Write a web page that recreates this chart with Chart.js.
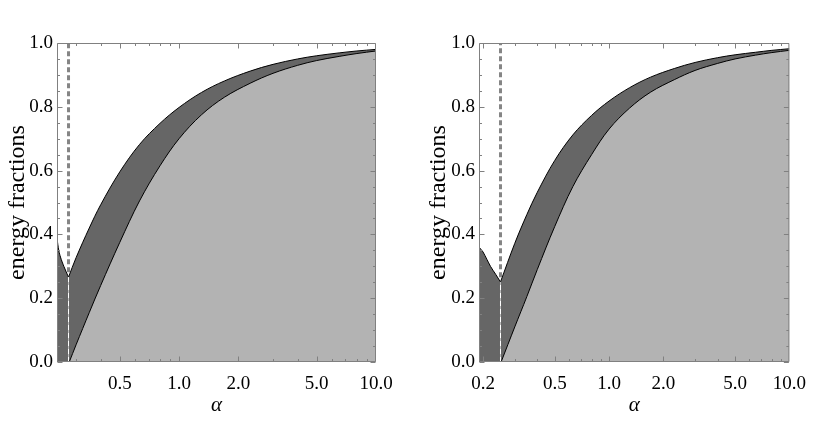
<!DOCTYPE html>
<html><head><meta charset="utf-8">
<script src="https://cdn.jsdelivr.net/npm/chart.js@4"></script>
<style>
html,body{margin:0;padding:0;background:#fff;width:817px;height:428px;overflow:hidden}
.box{position:absolute;top:0;height:428px}
</style></head><body>
<div class="box" style="left:0;width:408px"><canvas id="c1" width="408" height="428"></canvas></div>
<div class="box" style="left:408px;width:409px"><canvas id="c2" width="409" height="428"></canvas></div>
<script>
// ---------- data (left panel) ----------
const alphaDarkLeftL = [0.24, 0.245, 0.25, 0.26, 0.2746];
const darkLeftL      = [0.387, 0.35, 0.329, 0.300, 0.266];
const alphaDarkL = [0.2746, 0.3, 0.35, 0.4, 0.5, 0.63, 0.8, 1.0, 1.3, 1.7, 2.3, 3, 4, 5, 6.5, 8, 10];
const darkL      = [0.266, 0.327, 0.42, 0.493, 0.596, 0.682, 0.748, 0.798, 0.845, 0.881, 0.912, 0.933, 0.950, 0.960, 0.969, 0.975, 0.980];
const alphaLightL = [0.277, 0.3, 0.35, 0.4, 0.5, 0.63, 0.8, 1.0, 1.3, 1.7, 2.3, 3, 4, 5, 6.5, 8, 10];
const lightL      = [0, 0.054, 0.155, 0.24, 0.375, 0.505, 0.615, 0.70, 0.775, 0.83, 0.874, 0.905, 0.93, 0.945, 0.958, 0.967, 0.975];
const cutL = 0.2746;
const xRangeL = [0.24, 10];

// ---------- data (right panel) ----------
const alphaDarkLeftR = [0.19, 0.2, 0.21, 0.22, 0.235, 0.25];
const darkLeftR      = [0.36, 0.345, 0.322, 0.300, 0.275, 0.251];
const alphaDarkR = [0.25, 0.3, 0.35, 0.4, 0.5, 0.63, 0.8, 1.0, 1.3, 1.7, 2.3, 3, 4, 5, 6.5, 8, 10];
const darkR      = [0.251, 0.372, 0.462, 0.532, 0.632, 0.712, 0.773, 0.818, 0.86, 0.893, 0.92, 0.939, 0.954, 0.963, 0.971, 0.977, 0.982];
const alphaLightR = [0.252, 0.3, 0.35, 0.4, 0.5, 0.63, 0.8, 1.0, 1.3, 1.7, 2.3, 3, 4, 5, 6.5, 8, 10];
const lightR      = [0, 0.11, 0.205, 0.29, 0.425, 0.55, 0.65, 0.73, 0.796, 0.846, 0.885, 0.914, 0.936, 0.95, 0.962, 0.97, 0.977];
const cutR = 0.25;
const xRangeR = [0.19, 10];

// ---------- ticks ----------
const yTicks = [0, 0.2, 0.4, 0.6, 0.8, 1.0];
const yTickLabels = ['0.0', '0.2', '0.4', '0.6', '0.8', '1.0'];
const yMinor = [0.05, 0.1, 0.15, 0.25, 0.3, 0.35, 0.45, 0.5, 0.55, 0.65, 0.7, 0.75, 0.85, 0.9, 0.95];
const xTicksL = [0.5, 1, 2, 5, 10];
const xTickLabelsL = ['0.5', '1.0', '2.0', '5.0', '10.0'];
const xTicksR = [0.2, 0.5, 1, 2, 5, 10];
const xTickLabelsR = ['0.2', '0.5', '1.0', '2.0', '5.0', '10.0'];
const xMinor = [0.3, 0.4, 0.6, 0.7, 0.8, 0.9, 3, 4, 6, 7, 8, 9];

const yTitle = 'energy fractions';
const xTitle = 'α';

const DARK = '#666666', LIGHT = '#b3b3b3';
const SERIF = '"Liberation Serif", "Times New Roman", serif';

const framePlugin = {
  id: 'frame',
  afterDatasetsDraw(chart, args, o) {
    const {ctx, chartArea: a} = chart;
    const xs = chart.scales.x, ys = chart.scales.y;
    const L = a.left + 0.5, R = a.right - 0.5, T = a.top + 0.5, B = a.bottom - 0.5;
    ctx.save();
    ctx.strokeStyle = '#808080';
    ctx.lineWidth = 1;
    ctx.beginPath();
    ctx.rect(L, T, R - L, B - T);
    const xt = (v, len) => {
      const p = Math.round(xs.getPixelForValue(v)) + 0.5;
      if (p < L || p > R) return;
      ctx.moveTo(p, B); ctx.lineTo(p, B - len);
      ctx.moveTo(p, T); ctx.lineTo(p, T + len);
    };
    const yt = (v, len) => {
      const p = Math.round(ys.getPixelForValue(v)) + 0.5;
      ctx.moveTo(L, p); ctx.lineTo(L + len, p);
      ctx.moveTo(R, p); ctx.lineTo(R - len, p);
    };
    o.xMajor.forEach(v => xt(v, 5));
    o.xMinor.forEach(v => xt(v, 2.5));
    yTicks.forEach(v => yt(v, 5));
    yMinor.forEach(v => yt(v, 2.5));
    ctx.stroke();
    ctx.restore();
  }
};

function pts(xa, ya) { return xa.map((x, i) => ({x: x, y: ya[i]})); }

function makeChart(id, cfg) {
  const curve = {pointRadius: 0, borderColor: '#000', borderWidth: 1, tension: 0.35};
  const datasets = [
    Object.assign({data: pts(cfg.aDL, cfg.dL), fill: 'origin', backgroundColor: DARK, order: 4}, curve, {cubicInterpolationMode: 'monotone'}),
    Object.assign({data: pts(cfg.aD, cfg.d), fill: 'origin', backgroundColor: DARK, order: 4}, curve),
    Object.assign({data: pts(cfg.aL, cfg.l), fill: 'origin', backgroundColor: LIGHT, order: 3}, curve),
    {data: [{x: cfg.cut, y: cfg.d[0] + 0.015}, {x: cfg.cut, y: 1}], fill: false, borderColor: '#858585', borderWidth: 3, borderDash: [5, 3], pointRadius: 0, order: 1},
    {data: [{x: cfg.cut, y: 0}, {x: cfg.cut, y: cfg.d[0]}], fill: false, borderColor: '#ffffff', borderWidth: 1, borderDash: [5, 3], pointRadius: 0, order: 1}
  ];
  return new Chart(document.getElementById(id), {
    type: 'line',
    data: {datasets},
    plugins: [framePlugin],
    options: {
      responsive: false, animation: false,
      layout: {padding: {left: 0, right: cfg.padRight, top: 43, bottom: 0}},
      plugins: {legend: {display: false}, tooltip: {enabled: false},
        frame: {xMajor: cfg.xTicks, xMinor: xMinor}},
      scales: {
        x: {
          type: 'logarithmic', min: cfg.xRange[0], max: cfg.xRange[1],
          grid: {display: false, drawTicks: false}, border: {display: false},
          afterBuildTicks: s => { s.ticks = cfg.xTicks.map(v => ({value: v})); },
          afterFit: s => { s.height = 66; },
          ticks: {autoSkip: false, maxRotation: 0, padding: 11, color: '#000',
            font: {family: SERIF, size: 19},
            callback: (v) => { const i = cfg.xTicks.indexOf(v); return i >= 0 ? cfg.xLabels[i] : ''; }},
          title: {display: true, text: xTitle, color: '#000', padding: {top: 0, bottom: 10},
            font: {family: SERIF, size: 21, style: 'italic'}}
        },
        y: {
          type: 'linear', min: 0, max: 1,
          grid: {display: false, drawTicks: false}, border: {display: false},
          afterBuildTicks: s => { s.ticks = yTicks.map(v => ({value: v})); },
          afterFit: s => { s.width = cfg.yWidth; },
          ticks: {padding: 4, color: '#000', font: {family: SERIF, size: 19},
            callback: (v) => { const i = yTicks.indexOf(v); return i >= 0 ? yTickLabels[i] : ''; }},
          title: {display: true, text: yTitle, color: '#000', padding: {top: cfg.titlePad, bottom: 0},
            font: {family: SERIF, size: 24}}
        }
      }
    }
  });
}

makeChart('c1', {aDL: alphaDarkLeftL, dL: darkLeftL, aD: alphaDarkL, d: darkL, aL: alphaLightL, l: lightL,
  cut: cutL, xRange: xRangeL, xTicks: xTicksL, xLabels: xTickLabelsL, padRight: 32, yWidth: 57, titlePad: 3});
makeChart('c2', {aDL: alphaDarkLeftR, dL: darkLeftR, aD: alphaDarkR, d: darkR, aL: alphaLightR, l: lightR,
  cut: cutR, xRange: xRangeR, xTicks: xTicksR, xLabels: xTickLabelsR, padRight: 19, yWidth: 71, titlePad: 16});
</script>
</body></html>
